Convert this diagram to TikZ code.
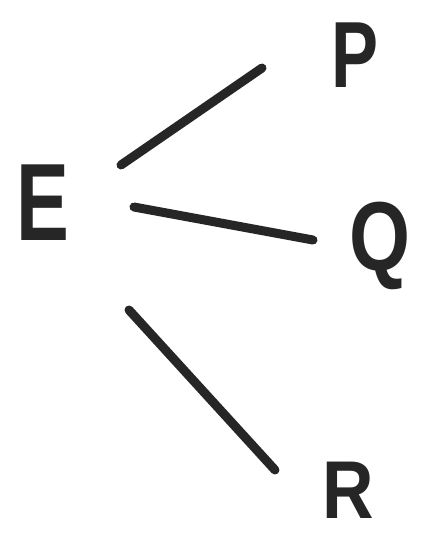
\documentclass[tikz,border=0pt]{standalone}
\usepackage{fontspec}
\setmainfont{Liberation Sans}
\begin{document}
\begin{tikzpicture}[x=1pt,y=-1pt,
  letter/.style={inner sep=0pt, text=black!85},
  link/.style={line width=9pt, line cap=round, black!85}]
\fill[white] (0,0) rectangle (427,538);
\useasboundingbox (0,0) rectangle (427,538);
\node[letter, font=\fontsize{110}{110}\selectfont\bfseries, xscale=0.72] (E) at (43,203) {E};
\node[letter, font=\fontsize{94}{94}\selectfont\bfseries, xscale=0.75] (P) at (355,55) {P};
\node[letter, font=\fontsize{98}{98}\selectfont\bfseries, xscale=0.8] (Q) at (380,246) {Q};
\node[letter, font=\fontsize{82}{82}\selectfont\bfseries, xscale=0.87] (R) at (348,490) {R};
\draw[link] ([shift={(78,-38)}]E.center) -- ([shift={(-93,13)}]P.center);
\draw[link] ([shift={(91,4)}]E.center) -- ([shift={(-67,-6)}]Q.center);
\draw[link] ([shift={(86,107)}]E.center) -- ([shift={(-73,-20)}]R.center);
\end{tikzpicture}
\end{document}
